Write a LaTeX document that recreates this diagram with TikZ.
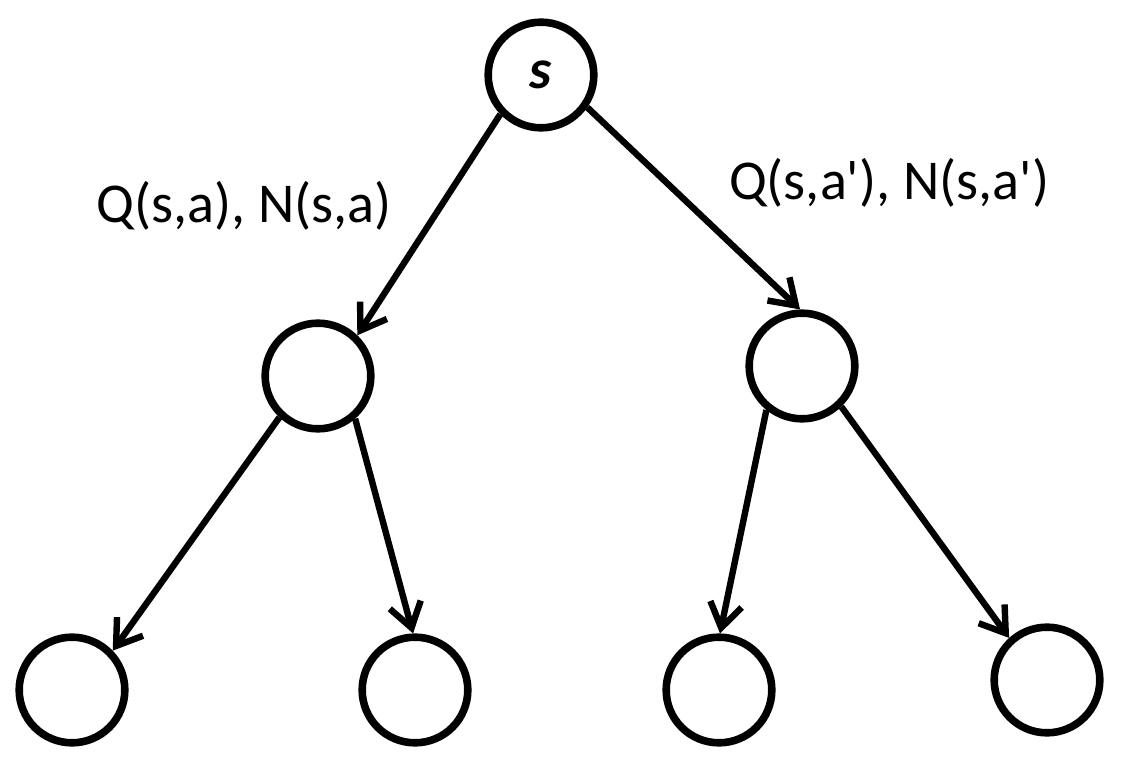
\documentclass[tikz,border=0pt]{standalone}
\usepackage{fontspec}
\setmainfont{Carlito}
\usetikzlibrary{arrows.meta}

\begin{document}
\begin{tikzpicture}[x=0.025cm,y=-0.025cm,
  state/.style={circle,draw,line width=0.19cm,minimum size=2.64cm,inner sep=0pt},
  edge/.style={line width=0.16cm,-{Straight Barb[length=0.6cm,width=0.8cm]}},
  lbl/.style={anchor=base,font=\fontsize{40}{46}\selectfont}]
  \useasboundingbox (0,0) rectangle (1124,766);
  % the root state
  \node[state,font=\fontsize{40}{46}\selectfont\bfseries\itshape] (root) at (541,75) {s};
  % states after the first action
  \node[state] (left) at (318,376) {};
  \node[state] (right) at (802,366) {};
  % leaves
  \node[state] (leftleft) at (72,690) {};
  \node[state] (leftright) at (415,690) {};
  \node[state] (rightleft) at (719,690) {};
  \node[state] (rightright) at (1047,680) {};
  % edges
  \draw[edge] (root.224) -- (left.46);
  \draw[edge] (root.-35) -- (right.92);
  \draw[edge] (left.227) -- (leftleft.44);
  \draw[edge] (left.311) -- (leftright.92);
  \draw[edge] (right.231) -- (rightleft.89);
  \draw[edge] (right.314) -- (rightright.132);
  % edge statistics
  \node[lbl] (statsa) at (244,223) {Q(s,a), N(s,a)};
  \node[lbl] (statsb) at (889,200) {Q(s,a\textquotesingle), N(s,a\textquotesingle)};
\end{tikzpicture}
\end{document}
